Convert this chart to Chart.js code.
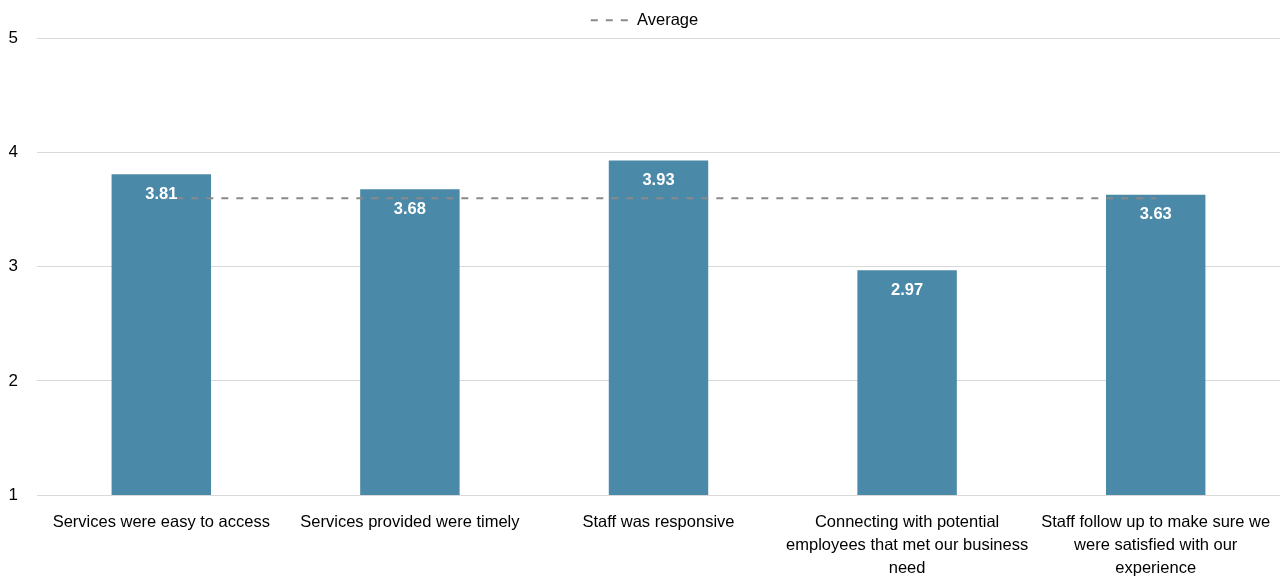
<!DOCTYPE html>
<html>
<head>
<meta charset="utf-8">
<script src="https://cdn.jsdelivr.net/npm/chart.js@4/dist/chart.umd.min.js"></script>
<style>
  html, body { margin: 0; padding: 0; background: #ffffff; }
  #wrap { width: 1283px; height: 580px; position: relative; }
</style>
</head>
<body>
<div id="wrap"><canvas id="chart"></canvas></div>
<script>
// Survey items (x-axis categories, wrapped into lines)
const categories = [
  "Services were easy to access",
  "Services provided were timely",
  "Staff was responsive",
  ["Connecting with potential", "employees that met our business", "need"],
  ["Staff follow up to make sure we", "were satisfied with our", "experience"]
];

// Mean rating for each item
const scores = [3.81, 3.68, 3.93, 2.97, 3.63];

// Overall average across items
const averageLine = [3.6, 3.6, 3.6, 3.6, 3.6];

// Rating scale ticks
const yTicks = [1, 2, 3, 4, 5];

const FONT = "'Liberation Sans', Arial, sans-serif";
const AVG_DASH = [7, 8];

// Writes each bar's value inside the top of the bar
const barValueLabels = {
  id: 'barValueLabels',
  afterDatasetsDraw(chart) {
    const ctx = chart.ctx;
    const meta = chart.getDatasetMeta(1);
    ctx.save();
    ctx.fillStyle = '#ffffff';
    ctx.font = 'bold 16.5px ' + FONT;
    ctx.textAlign = 'center';
    ctx.textBaseline = 'middle';
    meta.data.forEach((bar, i) => {
      ctx.fillText(scores[i].toFixed(2), bar.x, bar.y + 20);
    });
    ctx.restore();
  }
};

new Chart(document.getElementById('chart'), {
  type: 'bar',
  data: {
    labels: categories,
    datasets: [
      {
        type: 'line',
        label: 'Average',
        data: averageLine,
        borderColor: '#8a8a8a',
        backgroundColor: 'rgba(0,0,0,0)',
        borderWidth: 2,
        borderDash: AVG_DASH,
        pointRadius: 0,
        pointHoverRadius: 0,
        fill: false,
        order: 0
      },
      {
        type: 'bar',
        label: 'Score',
        data: scores,
        backgroundColor: '#4a89a8',
        borderWidth: 0,
        barPercentage: 0.4,
        categoryPercentage: 1.0,
        order: 1
      }
    ]
  },
  options: {
    responsive: true,
    maintainAspectRatio: false,
    animation: false,
    layout: { padding: { left: 9, right: 3, top: 3, bottom: 0 } },
    plugins: {
      tooltip: { enabled: false },
      legend: {
        position: 'top',
        labels: {
          usePointStyle: true,
          pointStyle: 'line',
          pointStyleWidth: 38,
          color: '#000000',
          font: { family: FONT, size: 16.5 },
          padding: 9,
          generateLabels(chart) {
            const items = Chart.defaults.plugins.legend.labels.generateLabels(chart);
            return items
              .filter(it => it.text === 'Average')
              .map(it => {
                const ds = chart.data.datasets[it.datasetIndex];
                it.lineDash = ds.borderDash;
                it.strokeStyle = ds.borderColor;
                it.lineWidth = ds.borderWidth;
                it.pointStyle = 'line';
                return it;
              });
          }
        }
      }
    },
    scales: {
      x: {
        grid: { display: false, drawTicks: false },
        border: { display: false },
        ticks: {
          color: '#000000',
          font: { family: FONT, size: 16.5, lineHeight: 1.4 },
          padding: 16,
          maxRotation: 0,
          autoSkip: false
        },
        afterFit(scale) {
          scale.paddingLeft = 0;
          scale.paddingRight = 0;
          scale.height = 85;
        }
      },
      y: {
        min: 1,
        max: 5,
        afterBuildTicks(scale) {
          scale.ticks = yTicks.map(v => ({ value: v }));
        },
        grid: { color: '#d9d9d9', lineWidth: 1, drawTicks: false },
        border: { display: false },
        ticks: {
          color: '#000000',
          font: { family: FONT, size: 17 },
          padding: 19
        },
        afterFit(scale) {
          scale.width = 28;
        }
      }
    }
  },
  plugins: [barValueLabels]
});
</script>
</body>
</html>
